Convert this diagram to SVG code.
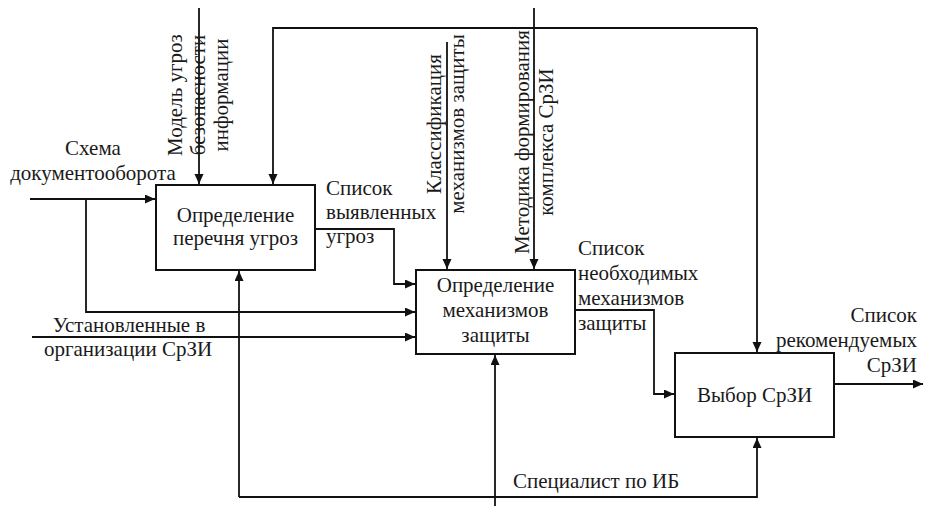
<svg xmlns="http://www.w3.org/2000/svg" width="925" height="506" viewBox="0 0 925 506">
<defs>
<marker id="arr" markerUnits="userSpaceOnUse" markerWidth="11" markerHeight="10" refX="10" refY="4.5" orient="auto">
<path d="M0,0 L10,4.5 L0,9 z" fill="#111"/>
</marker>
<style>
.t{font-size:21px;fill:#1a1a1a}
.m{text-anchor:middle}
.e{text-anchor:end}
.box{fill:#fff;stroke:#111;stroke-width:2}
.c{fill:none;stroke:#111;stroke-width:1.8}
.a{marker-end:url(#arr)}
</style>
</defs>
<rect width="925" height="506" fill="#fff"/>
<g id="connectors">
<path class="c a" d="M199,8 V184"/>
<path class="c a" d="M534,8 V269"/>
<path class="c a" d="M447,42 V269"/>
<path class="c a" d="M757,28 H273 V184"/>
<path class="c a" d="M757,28 V352"/>
<path class="c a" d="M30,199 H155"/>
<path class="c a" d="M86,199 V312 H415"/>
<path class="c a" d="M32,337 H415"/>
<path class="c a" d="M315,229 H394 V284 H415"/>
<path class="c a" d="M575,310 H654 V394 H674"/>
<path class="c a" d="M834,384 H923"/>
<path class="c a" d="M495,506 V355"/>
<path class="c a" d="M239,497 V271"/>
<path class="c a" d="M239,497 H757 V438"/>
</g>
<g font-family="Liberation Serif, Tinos, Noto Serif, DejaVu Serif, serif">
<g id="labels">
<text class="t m" x="93" y="155">Схема</text>
<text class="t m" x="93" y="180">документооборота</text>
<text class="t m" transform="rotate(-90 182 95)" x="182" y="95">Модель угроз</text>
<text class="t m" transform="rotate(-90 205 95)" x="205" y="95">безопасности</text>
<text class="t m" transform="rotate(-90 228 95)" x="228" y="95">информации</text>
<text class="t m" transform="rotate(-90 441 124)" x="441" y="124">Классификация</text>
<text class="t m" transform="rotate(-90 464 124)" x="464" y="124">механизмов защиты</text>
<text class="t m" transform="rotate(-90 529 142)" x="529" y="142">Методика формирования</text>
<text class="t m" transform="rotate(-90 553 142)" x="553" y="142">комплекса СрЗИ</text>
<text class="t" x="326" y="195">Список</text>
<text class="t" x="326" y="219">выявленных</text>
<text class="t" x="326" y="243">угроз</text>
<text class="t" x="578" y="255">Список</text>
<text class="t" x="578" y="280">необходимых</text>
<text class="t" x="578" y="305">механизмов</text>
<text class="t" x="578" y="330">защиты</text>
<text class="t e" x="917" y="322">Список</text>
<text class="t e" x="917" y="347">рекомендуемых</text>
<text class="t e" x="917" y="372">СрЗИ</text>
<text class="t m" x="129" y="332">Установленные в</text>
<text class="t m" x="128" y="356">организации СрЗИ</text>
<text class="t" x="513" y="488">Специалист по ИБ</text>
</g>
<g id="node1">
<rect class="box" x="156" y="185" width="159" height="85"/>
<text class="t m" x="235.5" y="222">Определение</text>
<text class="t m" x="235.5" y="245">перечня угроз</text>
</g>
<g id="node2">
<rect class="box" x="416" y="270" width="159" height="84"/>
<text class="t m" x="495.5" y="292">Определение</text>
<text class="t m" x="495.5" y="317">механизмов</text>
<text class="t m" x="495.5" y="342">защиты</text>
</g>
<g id="node3">
<rect class="box" x="675" y="353" width="159" height="84"/>
<text class="t m" x="754.5" y="402">Выбор СрЗИ</text>
</g>
</g>
</svg>
